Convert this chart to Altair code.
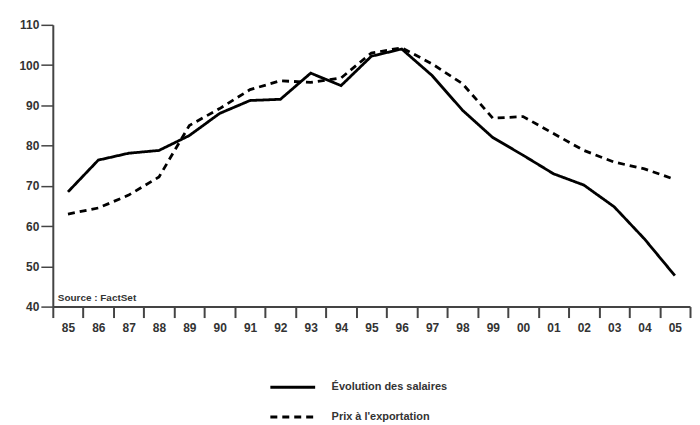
import altair as alt
import pandas as pd

years = ["85", "86", "87", "88", "89", "90", "91", "92", "93", "94", "95",
         "96", "97", "98", "99", "00", "01", "02", "03", "04", "05"]
salaires = [68.5, 76.4, 78.1, 78.8, 82.5, 88.0, 91.2, 91.5, 98.0, 94.9, 102.2,
            104.0, 97.4, 88.8, 82.0, 77.6, 73.0, 70.2, 64.8, 56.8, 47.7]
export = [63.0, 64.5, 67.7, 72.2, 85.0, 89.2, 93.9, 96.1, 95.7, 96.8, 103.0,
          104.3, 100.3, 95.4, 86.8, 87.2, 83.0, 78.8, 75.9, 74.2, 71.6]
series_names = ["Évolution des salaires", "Prix à l'exportation"]

rows = []
for i, y in enumerate(years):
    rows.append({"year": y, "value": salaires[i], "series": series_names[0], "order": i})
    rows.append({"year": y, "value": export[i], "series": series_names[1], "order": i})
df = pd.DataFrame(rows)

FONT = "Liberation Sans"

xenc = alt.X("year:N", sort=years, bandPosition=0.5,
             scale=alt.Scale(type="band", paddingInner=0, paddingOuter=0),
             axis=alt.Axis(title=None, labelAngle=0, tickBand="extent", tickSize=11,
                           labelPadding=5, domainWidth=2, tickWidth=2,
                           domainColor="#444", tickColor="#444",
                           labelFont=FONT, labelFontSize=12, labelFontWeight="bold",
                           labelColor="#333"))
yenc = alt.Y("value:Q", scale=alt.Scale(domain=[40, 110], nice=False, zero=False),
             axis=alt.Axis(title=None, values=[40, 50, 60, 70, 80, 90, 100, 110],
                           grid=False, tickSize=12, labelPadding=2, domainWidth=2,
                           tickWidth=1.5, domainColor="#444", tickColor="#444",
                           labelFont=FONT, labelFontSize=12, labelFontWeight="bold",
                           labelColor="#333"))

lines = alt.Chart(df).mark_line(color="black", strokeWidth=2.8).encode(
    x=xenc,
    y=yenc,
    order="order:Q",
    strokeDash=alt.StrokeDash(
        "series:N",
        scale=alt.Scale(domain=series_names, range=[[1, 0], [7, 5]]),
        legend=alt.Legend(title=None, orient="none", legendX=217, legendY=340,
                          symbolType="stroke", symbolSize=2025, symbolStrokeWidth=3,
                          symbolStrokeColor="black", labelFontSize=11,
                          labelFont=FONT, labelFontWeight="bold", labelColor="#333",
                          rowPadding=0, labelOffset=15),
    ),
)

source = alt.Chart(pd.DataFrame({"t": ["Source : FactSet"]})).mark_text(
    align="left", baseline="bottom", dx=5, dy=-4, fontSize=10, font=FONT,
    fontWeight="bold", color="#333"
).encode(
    x=alt.X(datum="85", bandPosition=0),
    y=alt.Y(datum=40),
    text="t:N",
)

chart = alt.layer(lines, source).properties(
    width=640, height=283,
    autosize=alt.AutoSizeParams(type="none"),
    padding={"left": 45, "top": 16, "right": 2, "bottom": 116},
    background="white",
).configure_view(stroke=None)

chart.save("out.html", embed_options={"renderer": "svg", "actions": False})
